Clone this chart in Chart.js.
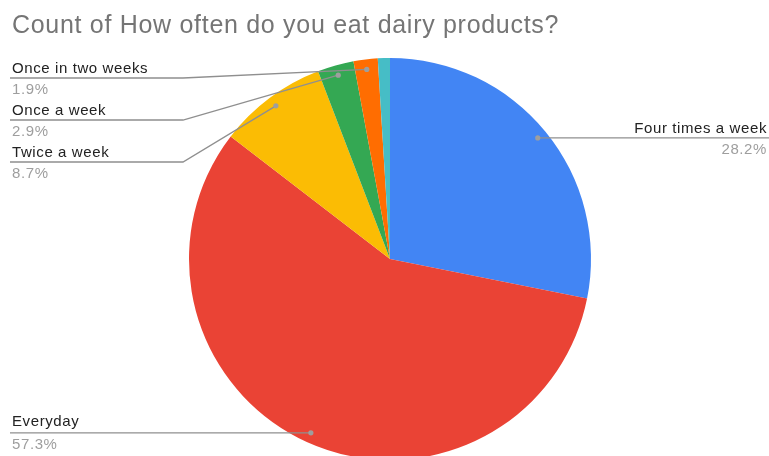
<!DOCTYPE html>
<html>
<head>
<meta charset="utf-8">
<script src="https://cdn.jsdelivr.net/npm/chart.js@4.4.1/dist/chart.umd.min.js"></script>
<style>
  html, body { margin: 0; padding: 0; background: #fff; overflow: hidden; }
  /* the pie runs a little past the bottom edge, so the canvas is taller than the view */
  #wrap { width: 769px; height: 470px; position: relative; }
</style>
</head>
<body>
<div id="wrap"><canvas id="dairyChart"></canvas></div>
<script>
const chartTitle = 'Count of How often do you eat dairy products?';
const answers = ['Four times a week', 'Everyday', 'Twice a week', 'Once a week', 'Once in two weeks', 'Once a month'];
const counts = [29, 59, 9, 3, 2, 1];
const sliceColors = ['#4285F4', '#EA4335', '#FBBC04', '#34A853', '#FF6D01', '#46BDC6'];

// where each answer's callout sits (no lineY = run level with the dot;
// the smallest slice gets no callout)
const callouts = [
    { side: 'right' },
    { side: 'left', nameGap: 7 },
    { side: 'left', lineY: 162 },
    { side: 'left', lineY: 120 },
    { side: 'left', lineY: 78 },
    null
];

const labelFont = '15px "Liberation Sans", Arial, sans-serif';

// title + leader-line labels drawn straight onto the canvas
const calloutPlugin = {
    id: 'callouts',
    afterDraw(chart) {
        const ctx = chart.ctx;
        const meta = chart.getDatasetMeta(0);
        const data = chart.data.datasets[0].data;
        const total = data.reduce((a, b) => a + b, 0);

        ctx.save();
        ctx.font = '25px "Liberation Sans", Arial, sans-serif';
        ctx.letterSpacing = '0.7px';
        ctx.fillStyle = '#757575';
        ctx.textAlign = 'left';
        ctx.textBaseline = 'alphabetic';
        ctx.fillText(chartTitle, 12, 33);

        meta.data.forEach((arc, i) => {
            const c = callouts[i];
            if (!c) return;
            const mid = (arc.startAngle + arc.endAngle) / 2;
            const r = arc.outerRadius - 10;
            const dx = arc.x + Math.cos(mid) * r;
            const dy = arc.y + Math.sin(mid) * r;
            const lineY = c.lineY !== undefined ? c.lineY : dy;
            const pct = (data[i] / total * 100).toFixed(1) + '%';

            ctx.strokeStyle = '#8f8f8f';
            ctx.lineWidth = 1.3;
            ctx.beginPath();
            if (c.side === 'left') {
                ctx.moveTo(10, lineY);
                ctx.lineTo(183, lineY);
                ctx.lineTo(dx, dy);
            } else {
                ctx.moveTo(dx, dy);
                ctx.lineTo(769, lineY);
            }
            ctx.stroke();

            ctx.fillStyle = '#9e9e9e';
            ctx.beginPath();
            ctx.arc(dx, dy, 2.6, 0, Math.PI * 2);
            ctx.fill();

            ctx.font = labelFont;
            ctx.letterSpacing = '0.6px';
            const x = c.side === 'left' ? 12 : 767;
            ctx.textAlign = c.side === 'left' ? 'left' : 'right';
            ctx.fillStyle = '#222222';
            ctx.fillText(answers[i], x, lineY - (c.nameGap || 5));
            ctx.fillStyle = '#9e9e9e';
            ctx.fillText(pct, x, lineY + 16);
        });
        ctx.restore();
    }
};

new Chart(document.getElementById('dairyChart'), {
    type: 'pie',
    data: {
        labels: answers,
        datasets: [{
            data: counts,
            backgroundColor: sliceColors,
            borderWidth: 0,
            hoverOffset: 0,
            offset: 0
        }]
    },
    options: {
        responsive: true,
        maintainAspectRatio: false,
        animation: false,
        layout: { padding: { top: 58, bottom: 10, left: 189, right: 178 } },
        plugins: {
            legend: { display: false },
            title: { display: false },
            tooltip: { enabled: false }
        }
    },
    plugins: [calloutPlugin]
});
</script>
</body>
</html>
